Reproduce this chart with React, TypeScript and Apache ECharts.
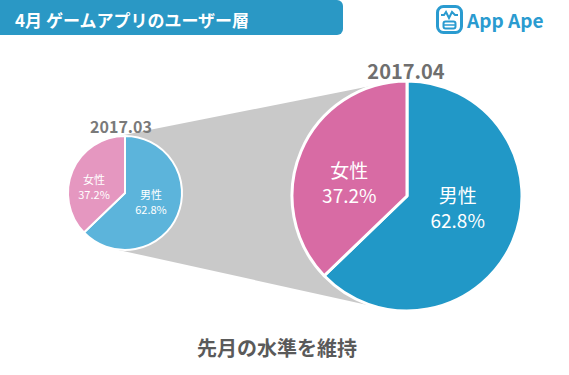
import React, { useEffect, useRef } from "react";
import * as echarts from "echarts";

const title = "4月 ゲームアプリのユーザー層";
const footer = "先月の水準を維持";
const categories = ["男性", "女性"];
const marchValues = [62.8, 37.2];
const aprilValues = [62.8, 37.2];
const periods = ["2017.03", "2017.04"];

const W = 569;
const H = 375;
const small = { cx: 125, cy: 193, r: 57 };
const large = { cx: 407, cy: 196, r: 115 };

function tangentHull() {
  const dx = large.cx - small.cx;
  const dy = large.cy - small.cy;
  const d = Math.sqrt(dx * dx + dy * dy);
  const ux = dx / d, uy = dy / d;
  const a = (small.r - large.r) / d;
  const b = Math.sqrt(1 - a * a);
  const px = -uy, py = ux;
  const n1 = [a * ux + b * px, a * uy + b * py];
  const n2 = [a * ux - b * px, a * uy - b * py];
  return [
    [small.cx + small.r * n2[0], small.cy + small.r * n2[1]],
    [large.cx + large.r * n2[0], large.cy + large.r * n2[1]],
    [large.cx + large.r * n1[0], large.cy + large.r * n1[1]],
    [small.cx + small.r * n1[0], small.cy + small.r * n1[1]],
  ];
}

export default function App() {
  const ref = useRef<HTMLDivElement>(null);
  useEffect(() => {
    if (!ref.current) return;
    const chart = echarts.init(ref.current, null, { renderer: "svg" });
    const font = "'Noto Sans CJK JP', 'Noto Sans', sans-serif";
    const mk = (vals: number[], colors: string[], offsets: number[][]) =>
      categories.map((c, i) => ({
        name: c,
        value: vals[i],
        itemStyle: { color: colors[i] },
        label: { offset: offsets[i] },
      }));
    chart.setOption({
      animation: false,
      textStyle: { fontFamily: font },
      graphic: [
        {
          type: "polygon",
          z: 0,
          shape: { points: tangentHull() },
          style: { fill: "#c9c9c9" },
        },
        {
          type: "rect",
          shape: { x: -10, y: 0, width: 353, height: 35, r: [0, 6, 6, 0] },
          style: { fill: "#2a98c5" },
        },
        {
          type: "text",
          x: 15,
          y: 19,
          style: {
            text: title,
            fill: "#ffffff",
            font: `bold 17px ${font}`,
            verticalAlign: "middle",
          },
        },
        {
          type: "rect",
          shape: { x: 437.5, y: 6.5, width: 24, height: 26, r: 6 },
          style: { fill: "none", stroke: "#2a9bd0", lineWidth: 3 },
        },
        {
          type: "polyline",
          shape: { points: [[441, 15], [444, 15], [446, 12], [449, 18], [452, 12], [455, 15], [458, 15]] },
          style: { fill: "none", stroke: "#2a9bd0", lineWidth: 2 },
        },
        {
          type: "rect",
          shape: { x: 443.5, y: 21.5, width: 12, height: 7, r: 2 },
          style: { fill: "none", stroke: "#2a9bd0", lineWidth: 2 },
        },
        {
          type: "line",
          shape: { x1: 444, y1: 25, x2: 455, y2: 25 },
          style: { stroke: "#2a9bd0", lineWidth: 1.5 },
        },
        {
          type: "text",
          x: 467,
          y: 19,
          style: {
            text: "App Ape",
            fill: "#2a9bd0",
            font: `bold 19px ${font}`,
            verticalAlign: "middle",
          },
        },
        {
          type: "text",
          x: small.cx - 4,
          y: 126,
          style: {
            text: periods[0],
            fill: "#7a7a7a",
            font: `bold 16px ${font}`,
            align: "center",
            verticalAlign: "middle",
          },
        },
        {
          type: "text",
          x: large.cx - 1,
          y: 70,
          style: {
            text: periods[1],
            fill: "#6f6f6f",
            font: `bold 20px ${font}`,
            align: "center",
            verticalAlign: "middle",
          },
        },
        {
          type: "text",
          x: 277,
          y: 347,
          style: {
            text: footer,
            fill: "#5a5a5a",
            font: `bold 20px ${font}`,
            align: "center",
            verticalAlign: "middle",
          },
        },
      ],
      series: [
        {
          type: "pie",
          z: 2,
          center: [small.cx, small.cy],
          radius: [0, small.r],
          startAngle: 90,
          clockwise: true,
          silent: true,
          itemStyle: { borderColor: "#ffffff", borderWidth: 2 },
          label: {
            position: "inside",
            formatter: (p: any) => `${p.name}\n${p.value.toFixed(1)}%`,
            color: "#ffffff",
            fontSize: 11,
            lineHeight: 15,
          },
          labelLine: { show: false },
          data: mk(marchValues, ["#5cb4db", "#e597c0"], [[-3, -4], [-2, 6]]),
        },
        {
          type: "pie",
          z: 2,
          center: [large.cx, large.cy],
          radius: [0, large.r],
          startAngle: 90,
          clockwise: true,
          silent: true,
          itemStyle: { borderColor: "#ffffff", borderWidth: 3 },
          label: {
            position: "inside",
            formatter: (p: any) => `${p.name}\n${p.value.toFixed(1)}%`,
            color: "#ffffff",
            fontSize: 19,
            lineHeight: 25,
          },
          labelLine: { show: false },
          data: mk(aprilValues, ["#2198c7", "#d86ba4"], [[-5, -13], [-2, 10]]),
        },
      ],
    });
    return () => chart.dispose();
  }, []);
  return (
    <div
      ref={ref}
      style={{ position: "absolute", left: 0, top: 0, width: W, height: H }}
    />
  );
}
